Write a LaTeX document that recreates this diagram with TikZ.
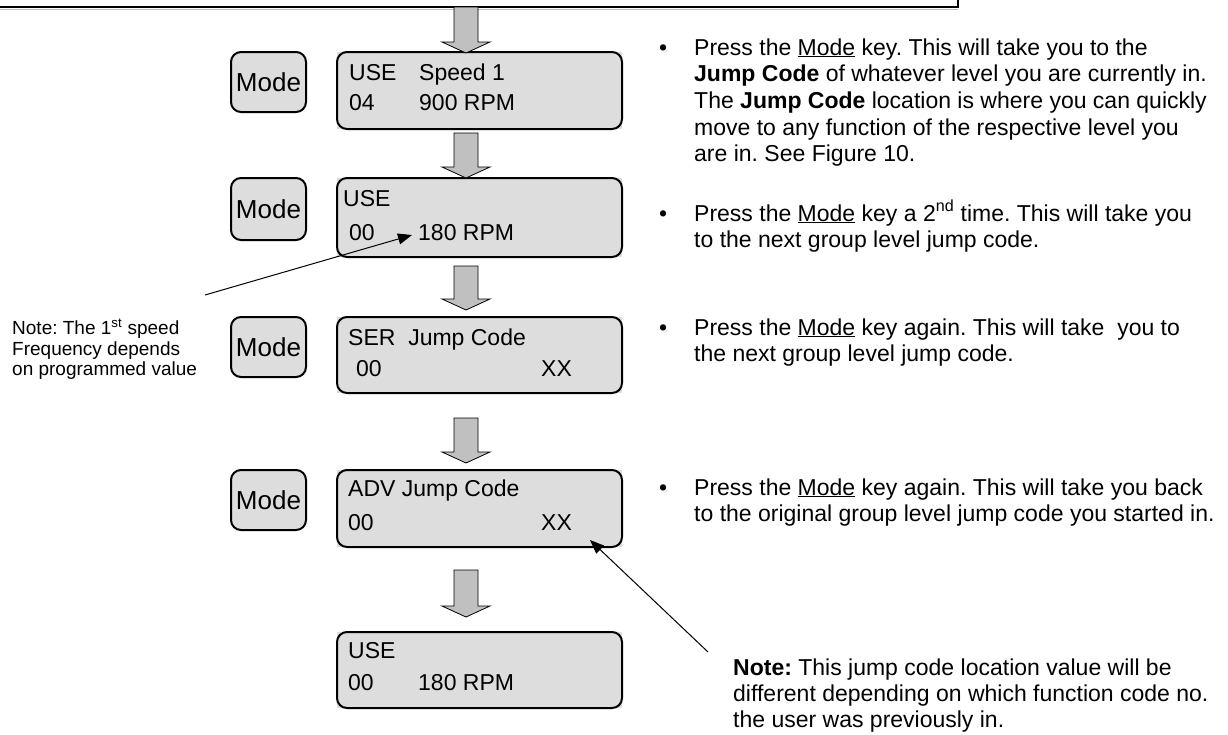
\documentclass[tikz,border=0pt]{standalone}
\usepackage{fontspec}
\setmainfont{Liberation Sans}
\usetikzlibrary{arrows.meta}
\definecolor{keygray}{HTML}{DDDDDD}
\definecolor{arrowgray}{HTML}{C0C0C0}
\newcommand\fatarr[4]{%
  \filldraw[fat] (#1-12,#2) -- (#1+12,#2) -- (#1+12,#3) -- (#1+24,#3) -- (#1,#4) -- (#1-24,#3) -- (#1-12,#3) -- cycle;}
\begin{document}
\frenchspacing
\begin{tikzpicture}[x=1pt,y=-1pt,
  lcdbox/.style={draw=black, line width=2pt, rounded corners=10pt, minimum width=285pt, inner sep=0pt},
  modekey/.style={draw=black, fill=keygray, line width=2pt, rounded corners=10pt, minimum width=75pt, minimum height=60pt, inner sep=0pt, font=\fontsize{26}{28}\selectfont},
  txt/.style={anchor=base west, inner sep=0pt, font=\fontsize{23}{26}\selectfont},
  smalltxt/.style={anchor=base west, inner sep=0pt, font=\fontsize{19}{21}\selectfont},
  fat/.style={fill=arrowgray, draw=black, line width=0.8pt},
  pointer/.style={-{Triangle[length=14pt,width=11pt]}, line width=1pt}]
\useasboundingbox (0,0) rectangle (1228,734);

% top line (bottom of a box above)
\draw[arrowgray, line width=1.2pt] (0,9.6) -- (958,9.6);
\draw[black, line width=1.5pt] (0,7) -- (958,7) -- (958,0);

% LCD backgrounds
\foreach \t/\b in {52/129,178/257,317/393,470/547,632/708}
  \fill[keygray] (337,\t) rectangle (622,\b);

% LCD boxes
\node[lcdbox, minimum height=77pt] (l1) at (479.5,90.5) {};
\node[lcdbox, minimum height=79pt] (l2) at (479.5,217.5) {};
\node[lcdbox, minimum height=76pt] (l3) at (479.5,355) {};
\node[lcdbox, minimum height=77pt] (l4) at (479.5,508.5) {};
\node[lcdbox, minimum height=76pt] (l5) at (479.5,670) {};

% Mode keys
\node[modekey] (m1) at (268.5,82) {Mode};
\node[modekey, minimum height=62pt] (m2) at (268.5,209) {Mode};
\node[modekey] (m3) at (268.5,347) {Mode};
\node[modekey] (m4) at (268.5,500) {Mode};

% LCD texts
\node[txt] (t1a) at (349,80) {USE};
\node[txt] (t1b) at (419,80) {Speed 1};
\node[txt] (t1c) at (349,110) {04};
\node[txt] (t1d) at (419,110) {900 RPM};
\node[txt] (t2a) at (343,206) {USE};
\node[txt] (t2c) at (349,240) {00};
\node[txt] (t2d) at (418,240) {180 RPM};
\node[txt] (t3a) at (348,345) {SER\ \ Jump Code};
\node[txt] (t3c) at (356,376) {00};
\node[txt] (t3d) at (541,376) {XX};
\node[txt] (t4a) at (348,496) {ADV Jump Code};
\node[txt] (t4c) at (348,530) {00};
\node[txt] (t4d) at (541,530) {XX};
\node[txt] (t5a) at (348,658) {USE};
\node[txt] (t5c) at (348,690) {00};
\node[txt] (t5d) at (418,690) {180 RPM};

% fat arrows
\fatarr{466}{7}{42}{53}
\fatarr{466}{133}{167}{178}
\fatarr{466}{266}{299}{310}
\fatarr{466}{418}{452}{463}
\fatarr{466}{570}{606}{617}

% left note
\node[smalltxt] (n1) at (12,334) {Note: The 1\textsuperscript{st} speed};
\node[smalltxt] (n2) at (12,355) {Frequency depends};
\node[smalltxt] (n3) at (12,375) {on programmed value};
\coordinate (p1s) at (205,295);
\coordinate (p1e) at (412,235);
\draw[pointer] (p1s) -- (p1e);

% right bullets
\node[txt] (b1) at (659,55) {•};
\node[txt] (r1a) at (694,55) {Press the \underline{Mode} key. This will take you to the};
\node[txt] (r1b) at (694,81.7) {\textbf{Jump Code} of whatever level you are currently in.};
\node[txt] (r1c) at (694,108.4) {The \textbf{Jump Code} location is where you can quickly};
\node[txt] (r1d) at (694,135.1) {move to any function of the respective level you};
\node[txt] (r1e) at (694,161.8) {are in. See Figure 10.};

\node[txt] (b2) at (659,221) {•};
\node[txt] (r2a) at (694,221) {Press the \underline{Mode} key a 2\textsuperscript{nd} time. This will take you};
\node[txt] (r2b) at (694,247.7) {to the next group level jump code.};

\node[txt] (b3) at (659,335) {•};
\node[txt] (r3a) at (694,335) {Press the \underline{Mode} key again. This will take\ \ you to};
\node[txt] (r3b) at (694,361.7) {the next group level jump code.};

\node[txt] (b4) at (659,495) {•};
\node[txt] (r4a) at (694,495) {Press the \underline{Mode} key again. This will take you back};
\node[txt] (r4b) at (694,521.7) {to the original group level jump code you started in.};

% bottom note
\node[txt] (q1) at (733,675) {\textbf{Note:} This jump code location value will be};
\node[txt] (q2) at (733,701) {different depending on which function code no.};
\node[txt] (q3) at (733,727) {the user was previously in.};
\coordinate (p2s) at (708,652);
\coordinate (p2e) at (590,540);
\draw[pointer] (p2s) -- (p2e);
\end{tikzpicture}
\end{document}
